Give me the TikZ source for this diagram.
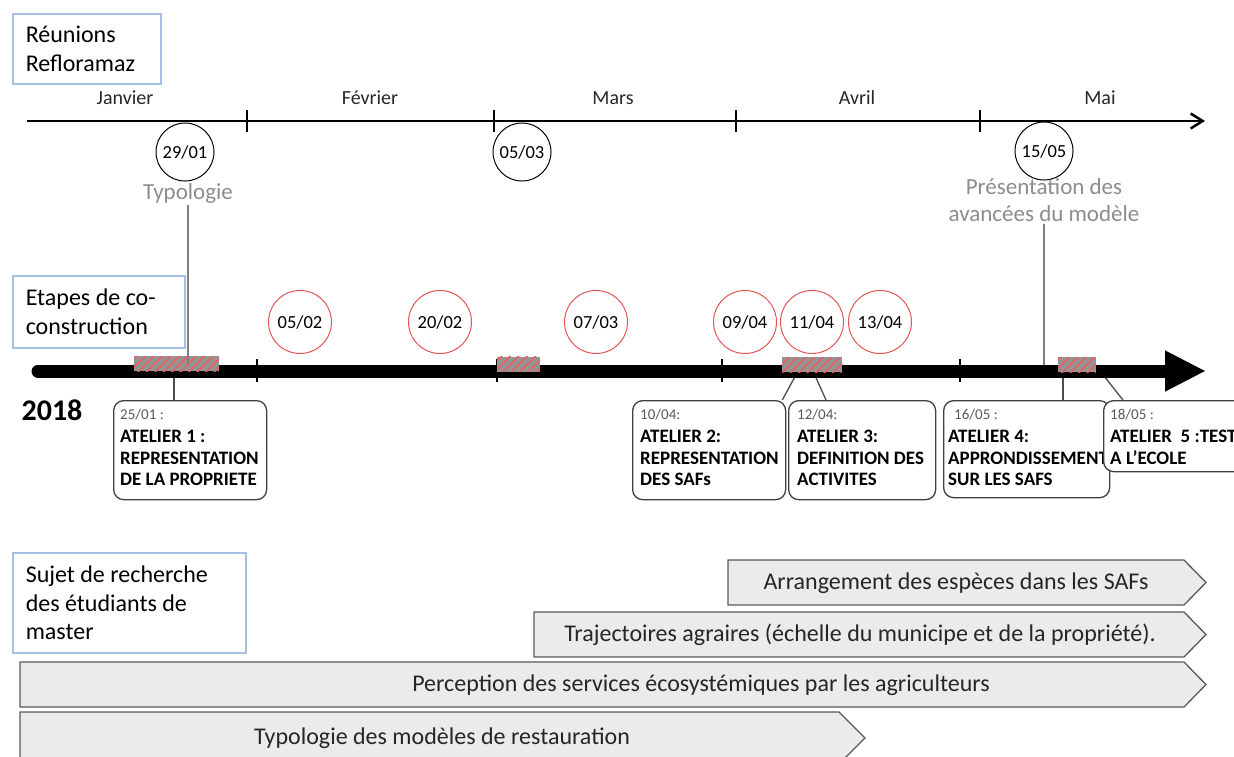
\documentclass[tikz,border=0pt]{standalone}
\usepackage{fontspec}
\setmainfont{Carlito}
\usetikzlibrary{arrows.meta, patterns.meta}

\begin{document}
\begin{tikzpicture}[x=1pt, y=-1pt]

\tikzset{group/.style = {draw={rgb,255:red,165;green,192;blue,228}, line width=1.5pt, anchor=north west, align=flush left, inner xsep=13pt, font=\fontsize{24}{28.5}\selectfont}}
\tikzset{meet/.style = {shape=circle, draw, line width=1pt, minimum size=58pt, inner sep=0pt, font=\fontsize{18.5}{20}\selectfont}}
\tikzset{atl/.style = {meet, draw={rgb,255:red,228;green,85;blue,85}, minimum size=63pt}}
\tikzset{note/.style = {text=black!45, align=center, inner sep=2pt, font=\fontsize{23}{27}\selectfont}}
\tikzset{hatch/.style = {fill=black!42, postaction={pattern={Lines[angle=45,distance=6pt,line width=1.6pt]}, pattern color={rgb,255:red,235;green,95;blue,95}}, minimum height=15pt, inner sep=0pt}}
\tikzset{atelier/.style = {draw=black!75, line width=1.3pt, rounded corners=10pt, fill=white, anchor=north west, inner sep=0pt}}
\tikzset{day/.style = {anchor=west, text=black!65, inner sep=0pt, font=\fontsize{15}{17}\selectfont}}
\tikzset{title/.style = {anchor=north west, align=flush left, inner sep=0pt, font=\bfseries\fontsize{19}{21.5}\selectfont}}
\tikzset{topic/.style = {draw=black!65, line width=1.3pt, fill=black!8}}
\tikzset{conn/.style = {draw=black!70, line width=1.3pt}}
\tikzset{lead/.style = {draw=black!50, line width=1.3pt}}

\useasboundingbox (0,0) rectangle (1234,756);

%reunions
\node[group, minimum width=148pt, minimum height=70pt, text width=122pt] (reu) at (12,13) {Réunions\\Refloramaz};
\foreach \m/\x [count=\i] in {Janvier/125, Février/370, Mars/613, Avril/857, Mai/1100}
  \node[text=black!85, font=\fontsize{20}{24}\selectfont] (mois\i) at (\x,98) {\m};
\coordinate (t0) at (27,121);
\coordinate (t1) at (1205,121);
\draw[line width=2.5pt, -{Straight Barb[length=12pt,width=15pt]}] (t0) -- (t1);
\foreach \x in {247,494,736,980}
  \draw[line width=2pt] (\x,110) -- (\x,132);
\node[meet] (r1) at (185,152) {29/01};
\node[meet] (r2) at (522,152) {05/03};
\node[meet] (r3) at (1044,151) {15/05};
\node[note] (n1) at (188,193) {Typologie};
\node[note] (n2) at (1044,200) {Présentation des\\avancées du modèle};

%co-construction
\node[group, minimum width=172pt, minimum height=72pt, text width=146pt] (eta) at (12,275) {Etapes de co-\\construction};
\node[atl] (a1) at (300,322) {05/02};
\node[atl] (a2) at (440,322) {20/02};
\node[atl] (a3) at (596,322) {07/03};
\node[atl] (a4) at (745,322) {09/04};
\node[atl] (a5) at (812,322) {11/04};
\node[atl] (a6) at (880,322) {13/04};
\node[font=\bfseries\fontsize{30}{34}\selectfont] (an) at (52,410) {2018};

%ateliers
\coordinate (k1) at (174,371);
\coordinate (k2) at (798,371);
\coordinate (k3) at (813,371);
\coordinate (k4) at (1063,371);
\coordinate (k5) at (1100,371);
\node[atelier, minimum width=153pt, minimum height=99pt] (at1) at (113,400) {};
\node[atelier, minimum width=153pt, minimum height=99pt] (at2) at (632,400) {};
\node[atelier, minimum width=147pt, minimum height=99pt] (at3) at (788,400) {};
\draw[conn] (k1) -- (k1 |- at1.north);
\draw[conn] (k2) -- ([xshift=-4pt]at2.north east);
\draw[conn] (k3) -- ([xshift=38pt]at3.north west);
\node[day] (d1) at ([shift={(7pt,-15pt)}]at1.north west) {25/01 :};
\node[title] (e1) at ([shift={(7pt,-30pt)}]at1.north west) {ATELIER 1 :\\REPRESENTATION\\DE LA PROPRIETE};
\node[day] (d2) at ([shift={(8pt,-15pt)}]at2.north west) {10/04:};
\node[title] (e2) at ([shift={(8pt,-30pt)}]at2.north west) {ATELIER 2:\\REPRESENTATION\\DES SAFs};
\node[day] (d3) at ([shift={(9pt,-15pt)}]at3.north west) {12/04:};
\node[title] (e3) at ([shift={(9pt,-30pt)}]at3.north west) {ATELIER 3:\\DEFINITION DES\\ACTIVITES};
\node[atelier, minimum width=166pt, minimum height=97pt] (at4) at (943,400) {};
\draw[conn] (k4) -- (k4 |- at4.north);
\node[day] (d4) at ([shift={(11pt,-15pt)}]at4.north west) {16/05 :};
\node[title] (e4) at ([shift={(5pt,-30pt)}]at4.north west) {ATELIER 4:\\APPRONDISSEMENT\\SUR LES SAFS};
\node[atelier, minimum width=190pt, minimum height=71pt] (at5) at (1103,400) {};
\draw[conn] (k5) -- ([xshift=20pt]at5.north west);
\node[day] (d5) at ([shift={(7pt,-15pt)}]at5.north west) {18/05 :};
\node[title] (e5) at ([shift={(7pt,-30pt)}]at5.north west) {ATELIER\ \ 5 :TEST\\A L’ECOLE};

%bar
\coordinate (b0) at (38,371);
\coordinate (b1) at (1206,371);
\draw[line width=13pt, line cap=round, -{Triangle[length=41pt,width=38pt]}] (b0) -- (b1);
\foreach \x in {257,497,722,960}
  \draw[line width=2.5pt] (\x,359) -- (\x,382);
\node[hatch, minimum width=85pt] (w1) at (176.5,363.5) {};
\node[hatch, minimum width=43pt] (w2) at (518.5,364) {};
\node[hatch, minimum width=60pt] (w3) at (812,364.5) {};
\node[hatch, minimum width=38pt] (w4) at (1077,364.5) {};
\draw[lead] (n1.south) -- (n1.south |- w1.center);
\draw[lead] (n2.south) -- (n2.south |- w4.center);

%sujets
\node[group, minimum width=233pt, minimum height=100pt, text width=207pt] (suj) at (12,552) {Sujet de recherche\\des étudiants de\\master};
\draw[topic] (728,560) -- (1184,560) -- (1206,582.5) -- (1184,605) -- (728,605) -- cycle;
\node[text=black!85, font=\fontsize{24}{28}\selectfont] (s1) at (956,583) {Arrangement des espèces dans les SAFs};
\draw[topic] (534,612) -- (1184,612) -- (1206,634.5) -- (1184,657) -- (534,657) -- cycle;
\node[text=black!85, font=\fontsize{24}{28}\selectfont] (s2) at (860,635) {Trajectoires agraires (échelle du municipe et de la propriété).};
\draw[topic] (20,662) -- (1184,662) -- (1206,684.5) -- (1184,707) -- (20,707) -- cycle;
\node[text=black!85, font=\fontsize{24}{28}\selectfont] (s3) at (701,685) {Perception des services écosystémiques par les agriculteurs};
\draw[topic] (20,712) -- (839,712) -- (865,738) -- (839,764) -- (20,764) -- cycle;
\node[text=black!85, font=\fontsize{24}{28}\selectfont] (s4) at (442,738) {Typologie des modèles de restauration};

\end{tikzpicture}
\end{document}
